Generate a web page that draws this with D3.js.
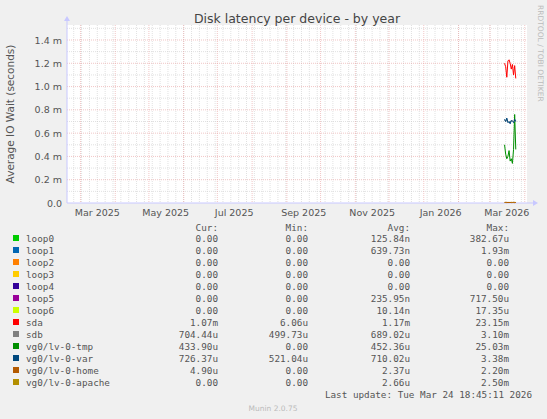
<!DOCTYPE html><html><head><meta charset="utf-8">
<script src="https://cdn.jsdelivr.net/npm/d3@7"></script>
<style>body{margin:0;background:#f0f0f0}</style></head><body>
<svg id="c" width="547" height="419"></svg>
<script>
const names=["loop0","loop1","loop2","loop3","loop4","loop5","loop6","sda","sdb","vg0/lv-0-tmp","vg0/lv-0-var","vg0/lv-0-home","vg0/lv-0-apache"];
const colors=["#00CC00","#0066B3","#FF8000","#FFCC00","#330099","#990099","#CCFF00","#FF0000","#808080","#008F00","#00487D","#B35A00","#B38F00"];
const curV=["0.00","0.00","0.00","0.00","0.00","0.00","0.00","1.07m","704.44u","433.90u","726.37u","4.90u","0.00"];
const minV=["0.00","0.00","0.00","0.00","0.00","0.00","0.00","6.06u","499.73u","0.00","521.04u","0.00","0.00"];
const avgV=["125.84n","639.73n","0.00","0.00","0.00","235.95n","10.14n","1.17m","689.02u","452.36u","710.02u","2.37u","2.66u"];
const maxV=["382.67u","1.93m","0.00","0.00","0.00","717.50u","17.35u","23.15m","3.10m","25.03m","3.38m","2.20m","2.50m"];
const dates=["2026-03-14","2026-03-15","2026-03-16","2026-03-17","2026-03-18","2026-03-19","2026-03-20","2026-03-21","2026-03-22","2026-03-23","2026-03-24"];
const sda=[1.20,1.17,1.08,1.22,1.23,1.20,1.15,1.19,1.10,1.18,1.07];
const sdb=[0.71,0.70,0.72,0.70,0.69,0.70,0.70,0.71,0.70,0.70,0.71];
const lvVar=[0.72,0.70,0.73,0.69,0.70,0.68,0.71,0.70,0.69,0.72,0.70];
const lvTmp=[0.50,0.42,0.38,0.40,0.45,0.36,0.38,0.34,0.46,0.76,0.46];
const lvHome=[0.005,0.004,0.006,0.003,0.005,0.004,0.006,0.004,0.005,0.003,0.005];
const lvApache=[0.004,0.005,0.003,0.006,0.004,0.005,0.003,0.005,0.004,0.006,0.004];
const yTicks=[0,0.2,0.4,0.6,0.8,1.0,1.2,1.4];
const yLabels=["0.0","0.2 m","0.4 m","0.6 m","0.8 m","1.0 m","1.2 m","1.4 m"];
const xLabelMonths=["2025-03-01","2025-05-01","2025-07-01","2025-09-01","2025-11-01","2026-01-01","2026-03-01"];

const svg=d3.select("#c");
const P=d3.timeParse("%Y-%m-%d");
const L=67,R=527,T=25,B=203;
const x=d3.scaleTime().domain([P("2025-02-17"),P("2026-04-03")]).range([L,R]);
const y=d3.scaleLinear().domain([0,1.4/(163/178)]).range([B,T]);
svg.append("rect").attr("x",L).attr("y",T).attr("width",R-L).attr("height",B-T).attr("fill","#fff");
const g=svg.append("g");
d3.timeWeek.range(x.domain()[0],x.domain()[1]).forEach(d=>g.append("line").attr("x1",x(d)).attr("x2",x(d)).attr("y1",T).attr("y2",B).attr("stroke","#ccc").attr("stroke-width",0.6).attr("stroke-dasharray","1,1"));
d3.range(0.1,1.55,0.2).forEach(v=>g.append("line").attr("x1",L).attr("x2",R).attr("y1",y(v)).attr("y2",y(v)).attr("stroke","#ccc").attr("stroke-width",0.6).attr("stroke-dasharray","1,1"));
d3.timeMonth.range(x.domain()[0],x.domain()[1]).forEach(d=>g.append("line").attr("x1",x(d)).attr("x2",x(d)).attr("y1",T).attr("y2",B).attr("stroke","#e8a0a0").attr("stroke-width",0.6).attr("stroke-dasharray","1,1"));
yTicks.slice(1).forEach(v=>g.append("line").attr("x1",L).attr("x2",R).attr("y1",y(v)).attr("y2",y(v)).attr("stroke","#e8a0a0").attr("stroke-width",0.6).attr("stroke-dasharray","1,1"));
svg.append("line").attr("x1",L).attr("x2",R+6).attr("y1",B).attr("y2",B).attr("stroke","#c8c8ff");
svg.append("line").attr("x1",L).attr("x2",L).attr("y1",B).attr("y2",T-4).attr("stroke","#c8c8ff");
svg.append("path").attr("d",`M${R+6},${B-3}L${R+11},${B}L${R+6},${B+3}Z`).attr("fill","#c8c8ff");
svg.append("path").attr("d",`M${L-3},${T-4}L${L},${T-9}L${L+3},${T-4}Z`).attr("fill","#c8c8ff");
const tf="DejaVu Sans, sans-serif";
yTicks.forEach((v,i)=>svg.append("text").attr("x",L-5).attr("y",y(v)+3.5).attr("text-anchor","end").attr("font-family",tf).attr("font-size",9.5).attr("fill","#555").text(yLabels[i]));
xLabelMonths.forEach(m=>{const d=P(m);svg.append("text").attr("x",x(d3.timeDay.offset(d,15))).attr("y",B+13).attr("text-anchor","middle").attr("font-family",tf).attr("font-size",9.5).attr("fill","#555").text(d3.timeFormat("%b %Y")(d));});
svg.append("text").attr("x",297).attr("y",23).attr("text-anchor","middle").attr("font-family",tf).attr("font-size",12.5).attr("fill","#444").text("Disk latency per device - by year");
svg.append("text").attr("transform",`translate(14,${(T+B)/2}) rotate(-90)`).attr("text-anchor","middle").attr("font-family",tf).attr("font-size",10.5).attr("fill","#555").text("Average IO Wait (seconds)");
svg.append("text").attr("transform",`translate(538,5) rotate(90)`).attr("font-family",tf).attr("font-size",7.5).attr("fill","#bbb").text("RRDTOOL / TOBI OETIKER");
const line=d3.line().x((d,i)=>x(P(dates[i]))).y(d=>y(d));
[[lvApache,12],[lvHome,11],[lvTmp,9],[sdb,8],[lvVar,10],[sda,7]].forEach(([a,ci])=>svg.append("path").attr("d",line(a)).attr("fill","none").attr("stroke",colors[ci]).attr("stroke-width",1));
const mf="DejaVu Sans Mono, monospace";
const cols=[[218,"Cur:",curV],[308,"Min:",minV],[410,"Avg:",avgV],[509,"Max:",maxV]];
cols.forEach(([cx,h])=>svg.append("text").attr("x",cx).attr("y",231).attr("text-anchor","end").attr("font-family",mf).attr("font-size",9.3).attr("fill","#555").text(h));
names.forEach((n,i)=>{const yy=242+i*12;
svg.append("rect").attr("x",13).attr("y",yy-7).attr("width",6).attr("height",6).attr("fill",colors[i]);
svg.append("text").attr("x",26).attr("y",yy).attr("font-family",mf).attr("font-size",9.3).attr("fill","#555").text(n);
cols.forEach(([cx,h,arr])=>svg.append("text").attr("x",cx).attr("y",yy).attr("text-anchor","end").attr("font-family",mf).attr("font-size",9.3).attr("fill","#555").text(arr[i]));});
svg.append("text").attr("x",532).attr("y",398).attr("text-anchor","end").attr("font-family",mf).attr("font-size",9.3).attr("fill","#555").text("Last update: Tue Mar 24 18:45:11 2026");
svg.append("text").attr("x",273).attr("y",411).attr("text-anchor","middle").attr("font-family",tf).attr("font-size",7.5).attr("fill","#bbb").text("Munin 2.0.75");
</script></body></html>
